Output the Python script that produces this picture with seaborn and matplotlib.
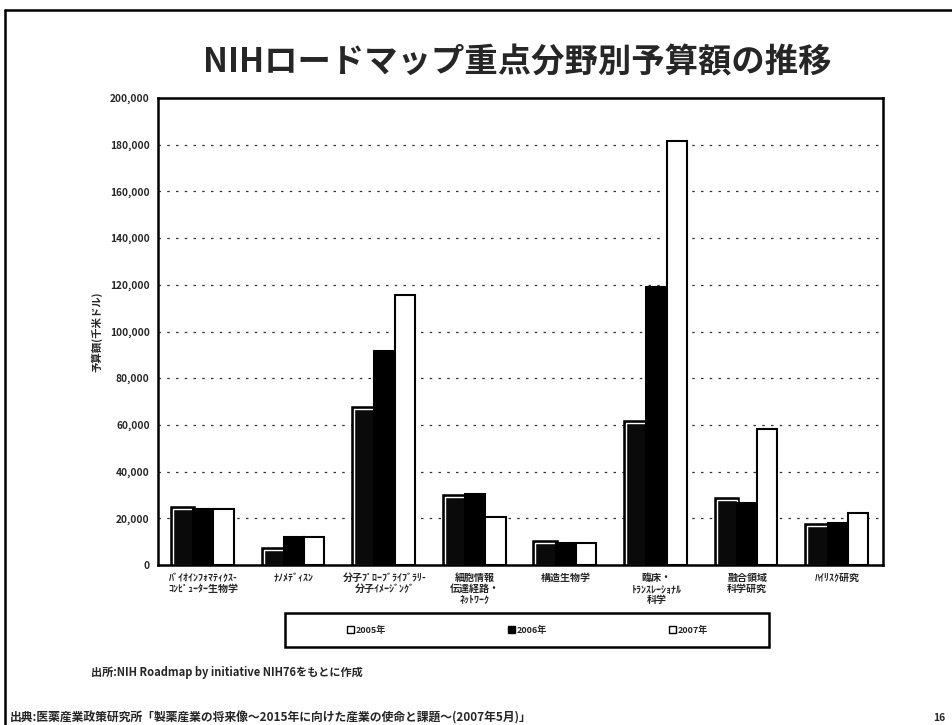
import matplotlib
matplotlib.use("Agg")
import matplotlib.pyplot as plt
import matplotlib.patheffects as pe
from matplotlib.patches import Patch, Rectangle
from matplotlib.lines import Line2D
import seaborn as sns
import pandas as pd

categories = [
    "ﾊﾞｲｵｲﾝﾌｫﾏﾃｨｸｽ-\nｺﾝﾋﾟｭｰﾀｰ生物学",
    "ﾅﾉﾒﾃﾞｨｽﾝ",
    "分子ﾌﾟﾛｰﾌﾞﾗｲﾌﾞﾗﾘ-\n分子ｲﾒｰｼﾞﾝｸﾞ",
    "細胞情報\n伝達経路・\nﾈｯﾄﾜｰｸ",
    "構造生物学",
    "臨床・\nﾄﾗﾝｽﾚｰｼｮﾅﾙ\n科学",
    "融合領域\n科学研究",
    "ﾊｲﾘｽｸ研究",
]
years = ["2005年", "2006年", "2007年"]
values_2005 = [24000, 6400, 66900, 29200, 9400, 60900, 27800, 16700]
values_2006 = [23800, 12100, 91600, 30500, 9400, 118900, 26400, 17900]
values_2007 = [23900, 12100, 115500, 20400, 9400, 181400, 58100, 22400]
yticks = list(range(0, 200001, 20000))

title = "NIHロードマップ重点分野別予算額の推移"
ylabel = "予算額(千米ドル)"
note1 = "出所:NIH Roadmap by initiative NIH76をもとに作成"
note2 = "出典:医薬産業政策研究所「製薬産業の将来像～2015年に向けた産業の使命と課題～(2007年5月)」"
page = "16"

df = pd.DataFrame({
    "cat": categories * 3,
    "year": [y for y in years for _ in categories],
    "value": values_2005 + values_2006 + values_2007,
})

sns.set_theme(style="white")
plt.rcParams["font.family"] = ["Noto Sans CJK JP", "DejaVu Sans"]

fig = plt.figure(figsize=(9.53, 7.25), dpi=100)
ax = fig.add_axes([0.1658, 0.2207, 0.9265 - 0.1658, 0.8648 - 0.2207])

sns.barplot(data=df, x="cat", y="value", hue="year", order=categories,
            hue_order=years, palette=["#0a0a0a", "#000000", "#ffffff"],
            width=0.67, gap=0, edgecolor="black", linewidth=1.5,
            saturation=1, legend=False, ax=ax)

for bar in ax.containers[0]:
    bar.set_edgecolor("white")
    bar.set_linewidth(1.0)
    bar.set_path_effects([pe.Stroke(linewidth=4, foreground="black"), pe.Normal()])

ax.set_ylim(0, 200000)
ax.set_xlim(-0.5, len(categories) - 0.5)
ax.set_yticks(yticks)
ax.set_yticklabels([f"{v:,}" for v in yticks], fontsize=7.3, fontweight="bold")
ax.set_xticks(range(len(categories)))
ax.set_xticklabels(categories, fontsize=7.2, fontweight="bold", linespacing=1.1)
ax.set_xticks([i + 0.5 for i in range(len(categories) - 1)], minor=True)
ax.tick_params(axis="x", which="major", length=0, pad=6)
ax.tick_params(axis="x", which="minor", length=4, direction="in", width=1.2, color="black")
ax.tick_params(axis="y", length=4, direction="in", width=1.2, color="black", pad=6)
ax.set_xlabel("")
ax.set_ylabel(ylabel, fontsize=7.5, fontweight="bold", labelpad=5)
for g in yticks[1:-1]:
    ax.axhline(g, color="#333333", lw=0.9, ls=(0, (2, 5)), zorder=0)
for s in ax.spines.values():
    s.set_visible(True)
    s.set_color("black")
    s.set_linewidth(1.8)

fig.text(0.543, 0.913, title, ha="center", va="center", fontsize=24, fontweight="bold")

# legend box
fig.add_artist(Rectangle((0.299, 0.1076), 0.508, 0.047, transform=fig.transFigure,
                         fill=False, edgecolor="black", linewidth=1.8))
handles = [Patch(facecolor="white", edgecolor="black", linewidth=1.0),
           Patch(facecolor="black", edgecolor="black", linewidth=1.0),
           Patch(facecolor="white", edgecolor="black", linewidth=1.0)]
fig.legend(handles, years, loc="center", bbox_to_anchor=(0.5535, 0.131), ncol=3,
           frameon=False, prop={"weight": "bold", "size": 6.5},
           handlelength=0.8, handleheight=0.8, handletextpad=0.2, columnspacing=13.5)

fig.text(0.096, 0.0731, note1, ha="left", va="center", fontsize=8, fontweight="bold")
fig.text(0.010, 0.0097, note2, ha="left", va="center", fontsize=8.5, fontweight="bold")
fig.text(0.992, 0.0097, page, ha="right", va="center", fontsize=7.5, fontweight="bold")

# slide border
fig.add_artist(Line2D([0.005, 1.0], [0.986, 0.986], transform=fig.transFigure, color="black", lw=1.8))
fig.add_artist(Line2D([0.005, 0.005], [0.0, 0.986], transform=fig.transFigure, color="black", lw=1.8))

fig.savefig("out.png", dpi=100)
